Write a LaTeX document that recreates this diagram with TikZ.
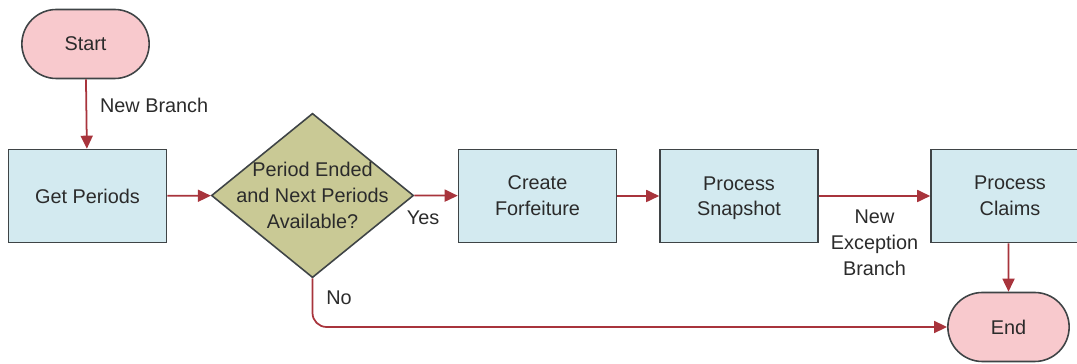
\documentclass[tikz,border=0pt]{standalone}
\usepackage{fontspec}
\setmainfont{Liberation Sans}
\usetikzlibrary{arrows.meta, shapes.geometric, shapes.misc}

\definecolor{termfill}{HTML}{F8C9CD}
\definecolor{boxfill}{HTML}{D3EAF0}
\definecolor{decfill}{HTML}{C9C995}
\definecolor{linkred}{HTML}{A8343C}
\definecolor{edgegray}{HTML}{3F4446}
\definecolor{txtgray}{HTML}{2B2B2B}

\tikzset{
  every node/.style={font=\fontsize{11.3}{14.7}\selectfont, text=txtgray},
  term/.style={rounded rectangle, draw=edgegray, line width=0.9pt, fill=termfill,
    minimum width=#1, minimum height=1.38cm},
  proc/.style={rectangle, draw=edgegray, line width=0.9pt, fill=boxfill,
    minimum width=3.16cm, minimum height=1.86cm, align=center},
  decision/.style={diamond, draw=edgegray, line width=0.9pt, fill=decfill,
    inner xsep=-9pt, inner ysep=0pt, aspect=1.23, align=center},
  link/.style={draw=linkred, line width=1pt, -{Triangle[length=2.6mm, width=2.4mm]}},
}

\begin{document}
\begin{tikzpicture}

\useasboundingbox (0,0) rectangle (21.54,7.28);

% Define nodes
\path (1.71,6.40) node[term=2.78cm] (start) {Start}
(1.75,3.36) node[proc] (periods) {Get Periods}
(6.25,3.37) node[decision] (ended) {Period Ended\\and Next Periods\\Available?}
(10.75,3.36) node[proc] (forfeit) {Create\\Forfeiture}
(14.78,3.36) node[proc] (snap) {Process\strut\\Snapshot}
(20.20,3.36) node[proc] (claims) {Process\\Claims}
(20.17,0.74) node[term=2.66cm] (end) {End}
;

% Connectors
\draw[link] (start) -- node[right=4pt, pos=0.38] {New Branch} (periods);
\draw[link] (periods) -- (ended);
\draw[link] (ended.east) -- node[below=5pt, pos=0.2] {Yes} (forfeit);
\draw[link] (forfeit) -- (snap);
\draw[link] (snap) -- node[below=4pt, align=center] {New\\Exception\\Branch} (claims.west);
\draw[link] (claims.south -| end) -- (end);
\draw[link, rounded corners=8pt] (ended.south) |- node[pos=0.2, right=4pt] {No} (end.west);

\end{tikzpicture}
\end{document}
